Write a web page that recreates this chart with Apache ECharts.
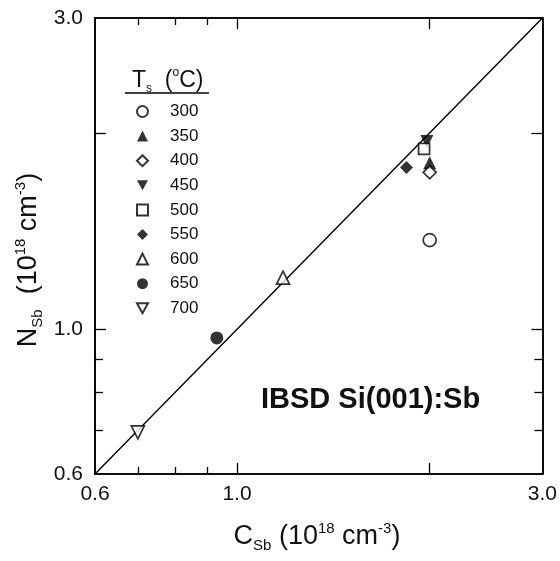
<!DOCTYPE html>
<html>
<head>
<meta charset="utf-8">
<script src="https://cdn.jsdelivr.net/npm/echarts@6/dist/echarts.min.js"></script>
<style>
  html, body { margin: 0; padding: 0; background: #fff; }
  #chart { width: 560px; height: 561px; }
</style>
</head>
<body>
<div id="chart"></div>
<script>
// growth temperatures (legend) and measured points [C_Sb, N_Sb]
var temps = ['300', '350', '400', '450', '500', '550', '600', '650', '700'];
var points = [
    [2.00, 1.37],
    [2.00, 1.80],
    [2.00, 1.74],
    [1.98, 1.94],
    [1.96, 1.89],
    [1.84, 1.77],
    [1.18, 1.20],
    [0.93, 0.97],
    [0.70, 0.695]
];
var symbols = ['circle', 'triangle', 'diamond', 'triangle', 'rect', 'diamond', 'triangle', 'circle', 'triangle'];
var filled = [false, true, false, true, false, true, false, true, false];
var flipped = [false, false, false, true, false, false, false, false, true];
var diagonal = [[0.6, 0.6], [3.0, 3.0]];
var labelValues = [0.6, 1.0, 3.0];
var majorTicks = [1.0, 2.0];
var minorTicks = [0.7, 0.8, 0.9];

var font = 'Liberation Sans';
var downTri = 'path://M0,0 L10,0 L5,9 Z';
var myChart = echarts.init(document.getElementById('chart'));

function makeAxis(pos, ticks, len, labels) {
    return {
        type: 'log',
        position: pos,
        min: 0.6,
        max: 3.0,
        logBase: 10,
        splitLine: { show: false },
        axisLine: { show: true, lineStyle: { color: '#000', width: 1.6 } },
        axisTick: { show: true, inside: true, length: len, customValues: ticks, lineStyle: { color: '#000', width: 1.3 } },
        axisLabel: labels ? {
            show: true, customValues: labels, color: '#111', fontFamily: font, fontSize: 21,
            margin: pos == 'left' ? 12 : 10,
            formatter: function (v) { return v.toFixed(1); }
        } : { show: false }
    };
}

var series = temps.map(function (t, i) {
    return {
        name: t,
        type: 'scatter',
        data: [points[i]],
        symbol: flipped[i] ? downTri : symbols[i],
        symbolSize: symbols[i] == 'rect' ? 11 : 13,
        itemStyle: {
            color: filled[i] ? '#000' : '#fff',
            borderColor: '#000',
            borderWidth: filled[i] ? 0 : 1.7
        },
        z: 5
    };
});
series.unshift({
    name: 'diagonal',
    type: 'line',
    data: diagonal,
    showSymbol: false,
    silent: true,
    lineStyle: { color: '#000', width: 1.4 },
    z: 3
});

var small = { fontFamily: font, fontSize: 15, fill: '#111', lineHeight: 32 };
var big = { fontFamily: font, fontSize: 27, fill: '#111', lineHeight: 32 };

myChart.setOption({
    backgroundColor: '#fff',
    animation: false,
    grid: { left: 95, right: 17, top: 18, bottom: 87, containLabel: false },
    xAxis: [
        makeAxis('bottom', majorTicks, 11, labelValues),
        makeAxis('bottom', minorTicks, 7, null),
        makeAxis('top', majorTicks, 11, null),
        makeAxis('top', minorTicks, 7, null)
    ],
    yAxis: [
        makeAxis('left', majorTicks, 11, labelValues),
        makeAxis('left', minorTicks, 8, null),
        makeAxis('right', majorTicks, 11, null),
        makeAxis('right', minorTicks, 8, null)
    ],
    legend: {
        data: temps,
        orient: 'vertical',
        left: 131,
        top: 98,
        itemWidth: 11,
        itemHeight: 11,
        itemGap: 7.6,
        textStyle: { fontFamily: font, fontSize: 17, color: '#111', lineHeight: 16, padding: [0, 0, 0, 17] }
    },
    graphic: [
        {
            type: 'text',
            left: 132,
            top: 67,
            style: {
                text: '{a|T}{s|s}{a|  (}{p|o}{a|C)}',
                rich: {
                    a: { fontFamily: font, fontSize: 23, fill: '#111', lineHeight: 28 },
                    s: { fontFamily: font, fontSize: 12, fill: '#111', verticalAlign: 'bottom', lineHeight: 28 },
                    p: { fontFamily: font, fontSize: 12, fill: '#111', verticalAlign: 'top', lineHeight: 28 }
                }
            }
        },
        {
            type: 'line',
            shape: { x1: 125, y1: 93, x2: 209, y2: 93 },
            style: { stroke: '#000', lineWidth: 1.3 }
        },
        {
            type: 'text',
            x: 317,
            y: 537,
            style: {
                text: '{b|C}{s|Sb}{b| (10}{p|18}{b| cm}{p|-3}{b|)}',
                align: 'center',
                verticalAlign: 'middle',
                rich: {
                    b: big,
                    s: echarts.util.extend({ verticalAlign: 'bottom', padding: [10, 0, 0, 0] }, small),
                    p: echarts.util.extend({ verticalAlign: 'top' }, small)
                }
            }
        },
        {
            type: 'text',
            x: 29,
            y: 260,
            rotation: Math.PI / 2,
            style: {
                text: '{b|N}{s|Sb}{b|  (10}{p|18}{b| cm}{p|-3}{b|)}',
                align: 'center',
                verticalAlign: 'middle',
                rich: {
                    b: big,
                    s: echarts.util.extend({ verticalAlign: 'bottom', padding: [10, 0, 0, 0] }, small),
                    p: echarts.util.extend({ verticalAlign: 'top' }, small)
                }
            }
        },
        {
            type: 'text',
            left: 261,
            top: 385,
            style: {
                text: 'IBSD Si(001):Sb',
                fontFamily: font,
                fontWeight: 'bold',
                fontSize: 29,
                fill: '#111'
            }
        }
    ],
    series: series
});
</script>
</body>
</html>
